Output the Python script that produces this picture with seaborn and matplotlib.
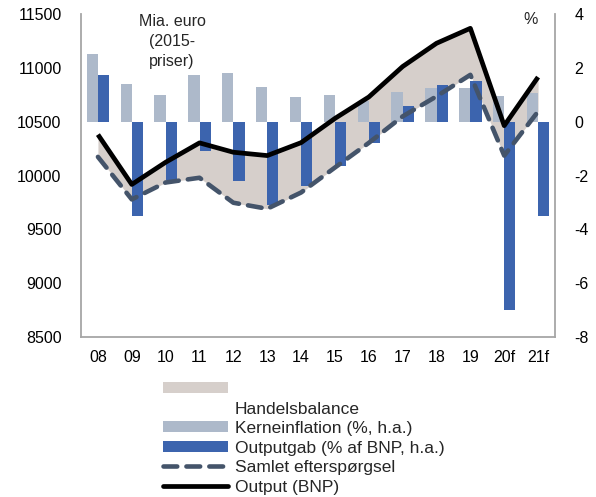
import numpy as np
import pandas as pd
import matplotlib
matplotlib.use("Agg")
import matplotlib.pyplot as plt
from matplotlib.patches import Patch
from matplotlib.lines import Line2D
import seaborn as sns

# ---- data ----
categories = ["08", "09", "10", "11", "12", "13", "14", "15", "16", "17", "18", "19", "20f", "21f"]
kerneinflation = [2.5, 1.4, 1.0, 1.75, 1.8, 1.3, 0.9, 1.0, 0.75, 1.1, 1.25, 1.25, 0.95, 1.05]
outputgab = [1.75, -3.5, -2.15, -1.1, -2.2, -3.1, -2.4, -1.65, -0.8, 0.6, 1.35, 1.5, -7.0, -3.5]
output_bnp = [10380, 9917, 10123, 10303, 10216, 10185, 10305, 10530, 10729, 11012, 11228, 11367, 10463, 10914]
samlet = [10173, 9778, 9935, 9979, 9747, 9691, 9842, 10074, 10303, 10549, 10735, 10935, 10185, 10595]
left_ticks = [8500, 9000, 9500, 10000, 10500, 11000, 11500]
right_ticks = [-8, -6, -4, -2, 0, 2, 4]

# mapping between left axis (Mia. euro) and right axis (%)
def l2r(v):
    return (np.asarray(v, dtype=float) - 10500.0) / 250.0

def r2l(v):
    return np.asarray(v, dtype=float) * 250.0 + 10500.0

c_light = "#ADB9CA"
c_dark = "#3C64AE"
c_fill = "#D6CFCB"
c_dash = "#44546A"

sns.set_theme(style="white")
plt.rcParams["font.family"] = ["Liberation Sans", "DejaVu Sans"]

fig = plt.figure(figsize=(5.96, 4.97), dpi=100)
ax = fig.add_axes([81 / 596, 1 - 337 / 497, (555 - 81) / 596, (337 - 14) / 497])

x = np.arange(len(categories))

# fill between the two lines (trade balance)
ax.fill_between(x, l2r(samlet), l2r(output_bnp), color=c_fill, lw=0, zorder=1)

# bars
df = pd.DataFrame({
    "cat": categories * 2,
    "val": kerneinflation + outputgab,
    "serie": ["Kerneinflation"] * len(categories) + ["Outputgab"] * len(categories),
})
sns.barplot(data=df, x="cat", y="val", hue="serie", order=categories,
            palette=[c_light, c_dark], width=0.66, gap=0, saturation=1,
            ax=ax, zorder=2, legend=False, linewidth=0, edgecolor="none")

# lines
sns.lineplot(x=x, y=l2r(samlet), ax=ax, color=c_dash, lw=3.3,
             linestyle=(0, (3, 2)), dash_capstyle="round", zorder=3)
sns.lineplot(x=x, y=l2r(output_bnp), ax=ax, color="black", lw=3.4,
             solid_capstyle="butt", zorder=4)

ax.set_xlim(-0.5, len(categories) - 0.5)
ax.set_ylim(-8, 4)
ax.set_xlabel("")
ax.set_ylabel("")
ax.yaxis.tick_right()
ax.set_yticks(right_ticks)
ax.set_yticklabels([str(t) for t in right_ticks])
ax.tick_params(axis="y", length=0, pad=14, labelsize=11.5, colors="black")
ax.tick_params(axis="x", length=0, pad=9, labelsize=11.5, colors="black")

for side in ["left", "right", "bottom"]:
    ax.spines[side].set_visible(True)
    ax.spines[side].set_color("#A6A6A6")
    ax.spines[side].set_linewidth(1.3)
ax.spines["top"].set_visible(False)

sec = ax.secondary_yaxis("left", functions=(r2l, l2r))
sec.set_yticks(left_ticks)
sec.set_yticklabels([str(t) for t in left_ticks])
sec.tick_params(axis="y", length=0, pad=14, labelsize=11.5, colors="black")
sec.spines["left"].set_visible(False)

fig.text(172 / 596, 1 - 14 / 497, "Mia. euro\n(2015-\npriser)", ha="center", va="top",
         fontsize=11.5, linespacing=1.42)
fig.text(531 / 596, 1 - 20 / 497, "%", ha="center", va="center", fontsize=11.5)

handles = [
    Patch(facecolor=c_fill, edgecolor="none"),
    Line2D([], [], color="none"),
    Patch(facecolor=c_light, edgecolor="none"),
    Patch(facecolor=c_dark, edgecolor="none"),
    Line2D([], [], color=c_dash, lw=3.3, linestyle=(0, (3, 2)), dash_capstyle="round"),
    Line2D([], [], color="black", lw=3.4),
]
labels = ["", "Handelsbalance", "Kerneinflation (%, h.a.)", "Outputgab (% af BNP, h.a.)",
          "Samlet efterspørgsel", "Output (BNP)"]
leg = fig.legend(handles, labels, loc="upper left", bbox_to_anchor=(163 / 596, 1 - 382 / 497),
                 frameon=False, fontsize=12.5, handlelength=3.75, handleheight=0.6,
                 labelspacing=0.26, handletextpad=0.4, borderpad=0, borderaxespad=0)

fig.savefig("out.png", dpi=100)
